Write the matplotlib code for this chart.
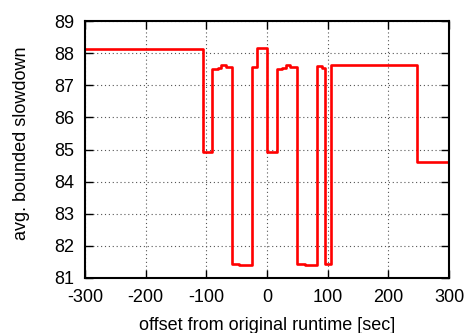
import matplotlib
matplotlib.use("Agg")
import matplotlib.pyplot as plt

plt.rcParams['font.family'] = ['Liberation Sans', 'DejaVu Sans']
plt.rcParams['axes.unicode_minus'] = False

# step breakpoints (offset, sec) and the slowdown level after each breakpoint
offsets = [-300, -106, -91, -80, -76, -68, -58, -46, -24, -17, 0, 16, 24, 31,
           38, 50, 63, 83, 90, 95, 105, 248, 300]
slowdown = [88.12, 84.93, 87.5, 87.55, 87.63, 87.58, 81.44, 81.39, 87.57, 88.15,
            84.93, 87.5, 87.55, 87.63, 87.58, 81.44, 81.4, 87.6, 87.55, 81.44,
            87.63, 84.6]

xticks = [-300, -200, -100, 0, 100, 200, 300]
yticks = [81, 82, 83, 84, 85, 86, 87, 88, 89]

fig = plt.figure(figsize=(4.68, 3.33), dpi=100)
ax = fig.add_axes([85 / 468, 1 - 278 / 333, 364 / 468, 257 / 333])

ax.step(offsets, slowdown + [slowdown[-1]], where='post', color='#ff0000', linewidth=1.9)

ax.set_xlim(-300, 300)
ax.set_ylim(81, 89)
ax.set_xticks(xticks)
ax.set_yticks(yticks)
ax.grid(True, color='#555555', linestyle=(0, (1, 2.5)), linewidth=0.8)

ax.tick_params(direction='in', length=6, width=1, top=True, right=True,
               labelsize=13)
ax.tick_params(axis='y', pad=8)
ax.tick_params(axis='x', pad=8)
for s in ax.spines.values():
    s.set_linewidth(1.5)

ax.set_xlabel('offset from original runtime [sec]', fontsize=13)
ax.set_ylabel('avg. bounded slowdown', fontsize=13)
ax.xaxis.set_label_coords(0.5, -0.152)
ax.yaxis.set_label_coords(-0.151, 0.525)

fig.savefig('out.png', dpi=100)
